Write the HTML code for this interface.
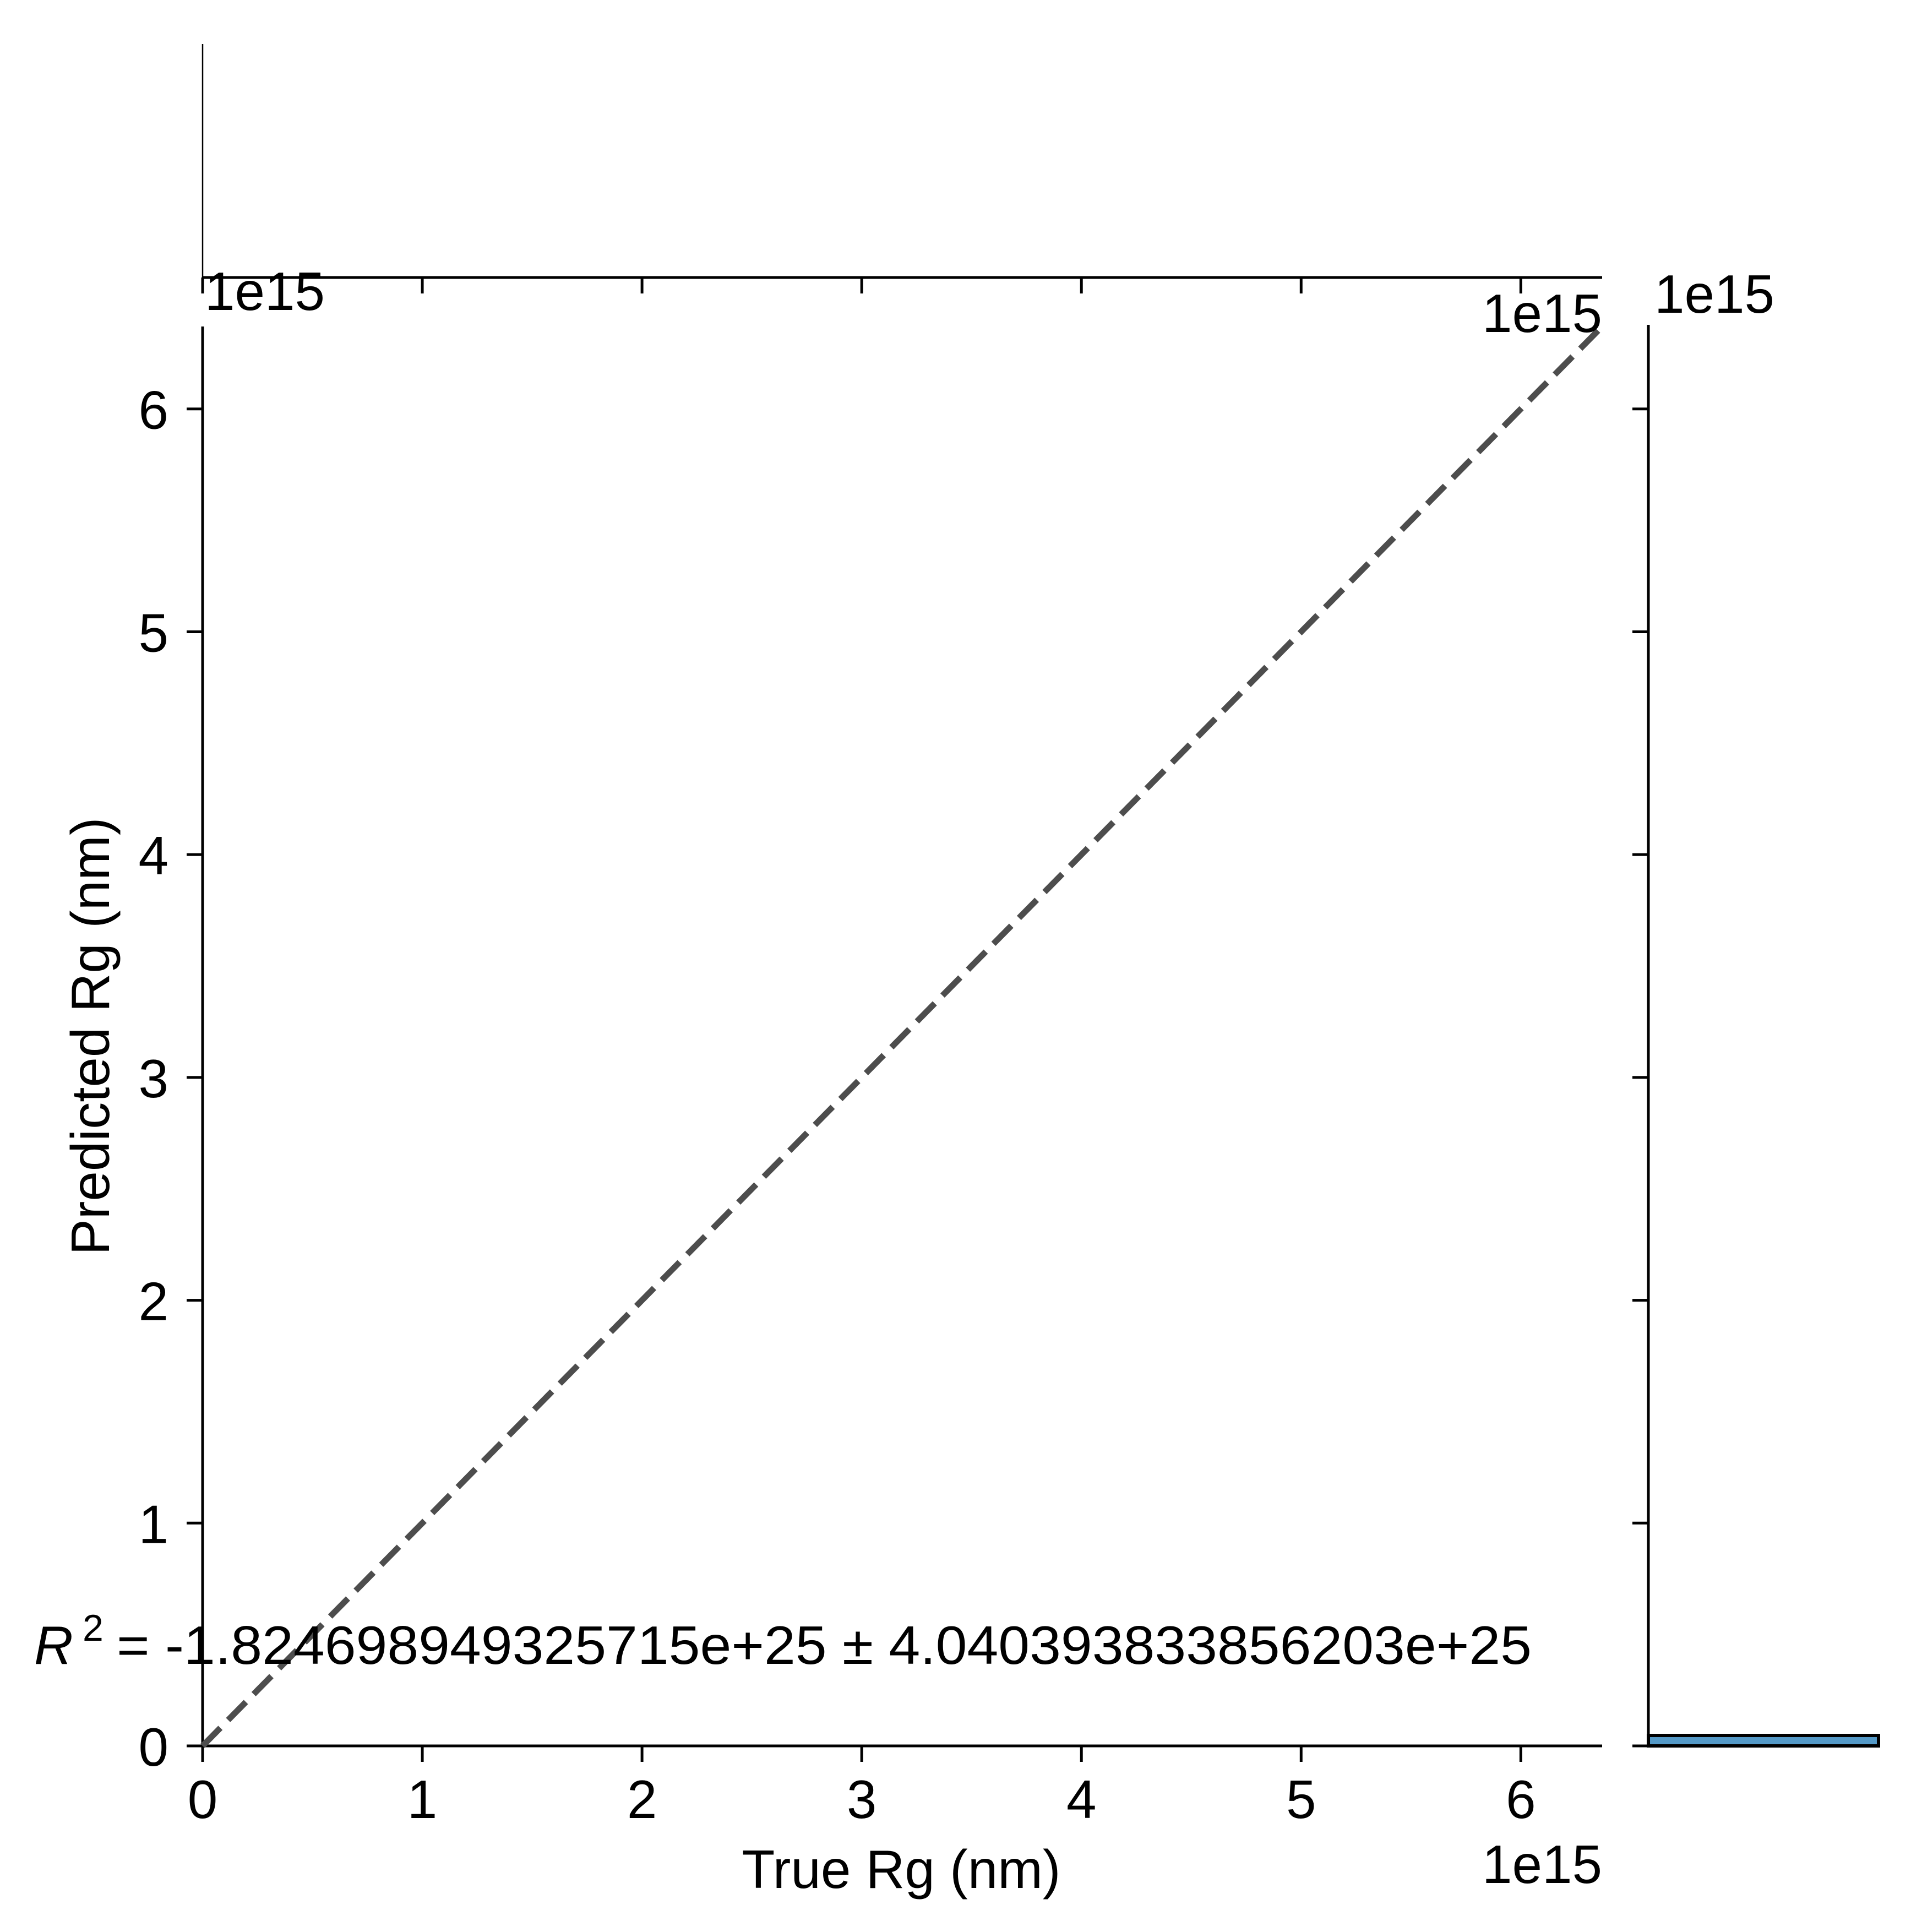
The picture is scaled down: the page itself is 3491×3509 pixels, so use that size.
<!DOCTYPE html>
<html><head><meta charset="utf-8"><style>
html,body{margin:0;padding:0;background:#fff}
svg{display:block}
text{font-family:"Liberation Sans",Arial,sans-serif;fill:#000}
</style></head><body>
<svg id="chart" width="3491" height="3509" viewBox="0 0 3491 3509" xmlns="http://www.w3.org/2000/svg">
<rect width="3491" height="3509" fill="#fff"/>
<g id="g"></g>
</svg>
<script>
const xTicks = [0, 1, 2, 3, 4, 5, 6];
const yTicks = [0, 1, 2, 3, 4, 5, 6];
const xTickLabels = ["0", "1", "2", "3", "4", "5", "6"];
const yTickLabels = ["0", "1", "2", "3", "4", "5", "6"];
const axisLimits = [0, 6.37];
const identityLine = [0, 6.37];
const histBinEdges = [0, 6.37];
const histCounts = [1];
const histMaxCount = 1;
const r2Text = "= -1.824698949325715e+25 \u00b1 4.040393833856203e+25";

const NS = "http://www.w3.org/2000/svg";
const g = document.getElementById("g");
const L = 368, R = 2910, B = 3171, T = 593;
const sx = v => L + (v - axisLimits[0]) / (axisLimits[1] - axisLimits[0]) * (R - L);
const sy = v => B - (v - axisLimits[0]) / (axisLimits[1] - axisLimits[0]) * (B - T);
const mL = 2994, mR = 3412;
const hx = c => mL + c / histMaxCount * (mR - mL);

function el(tag, attrs, text) {
  const e = document.createElementNS(NS, tag);
  for (const k in attrs) e.setAttribute(k, attrs[k]);
  if (text !== undefined) e.textContent = text;
  g.appendChild(e);
  return e;
}
let e;
e = el("line", {x1: L, y1: B, x2: R, y2: B, stroke: "#000", "stroke-width": 5});


e = el("line", {x1: L, y1: B + 2, x2: L, y2: T, stroke: "#000", "stroke-width": 5});



xTicks.forEach((v, i) => {
  const x = sx(v);
  e = el("line", {x1: x, y1: B, x2: x, y2: B + 29, stroke: "#000", "stroke-width": 5});
  
  
  e = el("text", {x: x, y: 3302, "font-size": 98, "text-anchor": "middle"}, xTickLabels[i]);
  
  
  e = el("line", {x1: x, y1: 504, x2: x, y2: 533, stroke: "#000", "stroke-width": 5});
  
  
});
yTicks.forEach((v, i) => {
  const y = sy(v);
  e = el("line", {x1: L, y1: y, x2: L - 29, y2: y, stroke: "#000", "stroke-width": 5});
  
  
  e = el("text", {x: 306, y: y + 36, "font-size": 98, "text-anchor": "end"}, yTickLabels[i]);
  
  
  e = el("line", {x1: mL, y1: y, x2: mL - 29, y2: y, stroke: "#000", "stroke-width": 5});
  
  
});

e = el("line", {x1: sx(identityLine[0]), y1: sy(identityLine[0]), x2: sx(identityLine[1]), y2: sy(identityLine[1]), stroke: "#4d4d4d", "stroke-width": 11, "stroke-dasharray": "46 20"});



e = el("line", {x1: L, y1: 504, x2: R, y2: 504, stroke: "#000", "stroke-width": 5});


e = el("line", {x1: L, y1: 80, x2: L, y2: 504, stroke: "#000", "stroke-width": 2.5});



e = el("line", {x1: mL, y1: 590, x2: mL, y2: B + 2, stroke: "#000", "stroke-width": 5});


histCounts.forEach((c, i) => {
  const hTop = 3152;
  e = el("rect", {x: mL, y: hTop, width: hx(c) - mL, height: B - hTop, fill: "#5499c7", stroke: "#000", "stroke-width": 6});
  
  
});

e = el("text", {x: 372, y: 563, "font-size": 98}, "1e15");


e = el("text", {x: R, y: 603, "font-size": 98, "text-anchor": "end"}, "1e15");


e = el("text", {x: 3005, y: 568, "font-size": 98}, "1e15");


e = el("text", {x: R, y: 3420, "font-size": 98, "text-anchor": "end"}, "1e15");



e = el("text", {x: 1637, y: 3429, "font-size": 98, "text-anchor": "middle"}, "True Rg (nm)");


e = el("text", {x: 0, y: 0, "font-size": 98, "text-anchor": "middle", transform: "translate(198," + ((T + B) / 2) + ") rotate(-90)"}, "Predicted Rg (nm)");



e = el("text", {x: 62, y: 3022, "font-size": 98, "font-style": "italic"}, "R");


e = el("text", {x: 150, y: 2980, "font-size": 68}, "2");


e = el("text", {x: 212, y: 3022, "font-size": 98, textLength: 2570, lengthAdjust: "spacingAndGlyphs"}, r2Text);


</script>
</body></html>
